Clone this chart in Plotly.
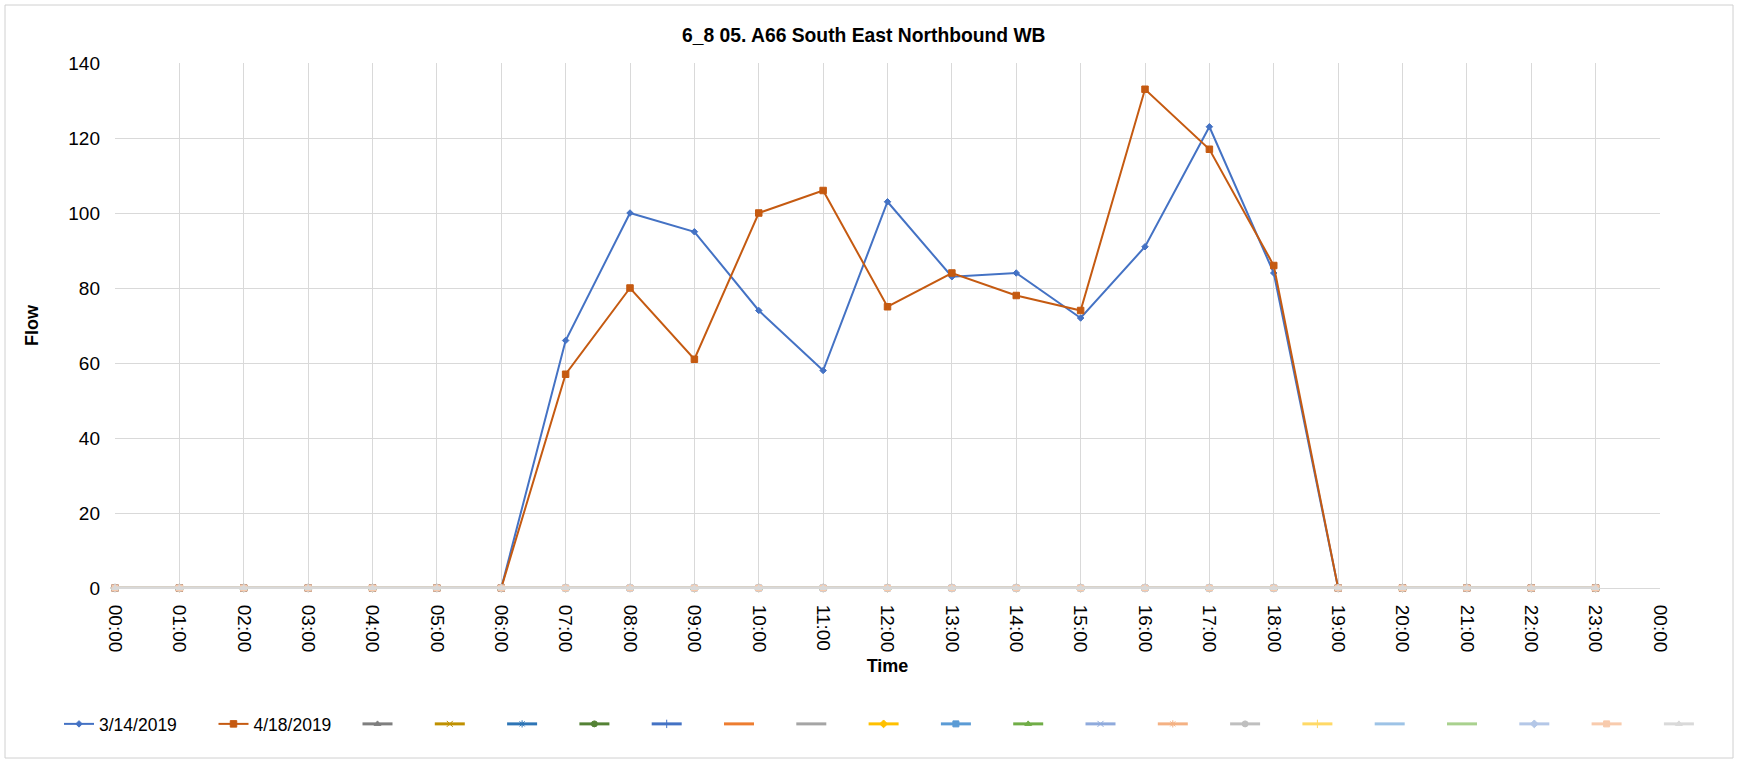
import plotly.graph_objects as go

# ---------------- data ----------------
time_labels = ["00:00", "01:00", "02:00", "03:00", "04:00", "05:00", "06:00", "07:00",
               "08:00", "09:00", "10:00", "11:00", "12:00", "13:00", "14:00", "15:00",
               "16:00", "17:00", "18:00", "19:00", "20:00", "21:00", "22:00", "23:00"]
day = "2019-01-01"
next_day = "2019-01-02"

flow_2019_03_14 = [0, 0, 0, 0, 0, 0, 0, 66, 100, 95, 74, 58,
                   103, 83, 84, 72, 91, 123, 84, 0, 0, 0, 0, 0]
flow_2019_04_18 = [0, 0, 0, 0, 0, 0, 0, 57, 80, 61, 100, 106,
                   75, 84, 78, 74, 133, 117, 86, 0, 0, 0, 0, 0]
empty_series = [0] * 24  # the 19 unnamed series are all zero

series_names = ["3/14/2019", "4/18/2019"]
blank_count = 19

title_text = "6_8 05. A66 South East Northbound WB"
x_title = "Time"
y_title = "Flow"

# ---------------- styles ----------------
main_colors = ["#4472C4", "#C55A11"]
main_symbols = ["diamond", "square"]
main_sizes = [5, 6.5]
blank_colors = ["#7F7F7F", "#BF9000", "#2E75B6", "#548235", "#4472C4", "#ED7D31",
                "#A5A5A5", "#FFC000", "#5B9BD5", "#70AD47", "#8FAADC", "#F4B183",
                "#BFBFBF", "#FFD966", "#9DC3E6", "#A9D18E", "#B4C7E7", "#F8CBAD",
                "#D9D9D9"]
blank_symbols = ["triangle-up", "x-thin-open", "asterisk-open", "circle", "cross-thin-open",
                 "line-ew-open", "line-ew-open", "diamond", "square", "triangle-up",
                 "x-thin-open", "asterisk-open", "circle", "cross-thin-open", "line-ew-open",
                 "line-ew-open", "diamond", "square", "triangle-up"]

FONT = "Liberation Sans, Arial, sans-serif"
W, H = 1738, 760
L, R, T, B = 115, 78, 63, 172
pw, ph = W - L - R, H - T - B

x_vals = [f"{day} {t}" for t in time_labels]

fig = go.Figure()
main_data = [flow_2019_03_14, flow_2019_04_18]
main_lw = [109.5, 99]
for i, (name, vals) in enumerate(zip(series_names, main_data)):
    fig.add_trace(go.Scatter(
        x=x_vals, y=vals, name=name, mode="lines+markers", cliponaxis=False,
        line=dict(color=main_colors[i], width=2),
        marker=dict(symbol=main_symbols[i], size=main_sizes[i], color=main_colors[i],
                    line=dict(color=main_colors[i], width=1)),
        legendwidth=main_lw[i],
    ))

for k in range(blank_count):
    c = blank_colors[k]
    fig.add_trace(go.Scatter(
        x=x_vals, y=empty_series, name="", mode="lines+markers", cliponaxis=False,
        line=dict(color=c, width=3),
        marker=dict(symbol=blank_symbols[k], size=6, color=c, line=dict(color=c, width=1)),
        legendwidth=(27.3 if k < blank_count - 1 else 1),
    ))

# chart border
def px2paper_x(px):
    return (px - L) / pw

def px2paper_y(py):
    return (H - B - py) / ph

fig.add_shape(type="rect", xref="paper", yref="paper",
              x0=px2paper_x(5), x1=px2paper_x(1733), y0=px2paper_y(758), y1=px2paper_y(5),
              line=dict(color="#D0D0D0", width=1), fillcolor="rgba(0,0,0,0)", layer="below")

fig.update_layout(
    width=W, height=H,
    margin=dict(l=L, r=R, t=T, b=B, autoexpand=False),
    paper_bgcolor="white", plot_bgcolor="white",
    font=dict(family=FONT, size=18, color="#000000"),
    title=dict(text=f"<b>{title_text}</b>", x=0.497, xref="container", xanchor="center",
               y=1 - 35.5 / H, yref="container", yanchor="middle",
               font=dict(family=FONT, size=19.3, color="#000000")),
    showlegend=True,
    legend=dict(orientation="h", xref="paper", yref="paper",
                x=px2paper_x(59), xanchor="left", y=px2paper_y(724), yanchor="middle",
                font=dict(family=FONT, size=17.5, color="#000000"),
                bgcolor="rgba(0,0,0,0)", itemclick=False, itemdoubleclick=False,
                tracegroupgap=0),
    xaxis=dict(
        type="date",
        range=[f"{day} 00:00", f"{next_day} 00:00"],
        tick0=f"{day} 00:00", dtick=3600000, tickformat="%H:%M",
        tickangle=90, ticks="", ticklabelstandoff=12,
        tickfont=dict(family=FONT, size=19, color="#000000"),
        showgrid=True, gridcolor="#D9D9D9", gridwidth=1,
        showline=True, linecolor="#D9D9D9", linewidth=1,
        zeroline=False,
        title=dict(text=f"<b>{x_title}</b>", standoff=8,
                   font=dict(family=FONT, size=18, color="#000000")),
        fixedrange=True,
    ),
    yaxis=dict(
        range=[0, 140], dtick=20, tick0=0,
        ticks="", ticklabelstandoff=14,
        tickfont=dict(family=FONT, size=19, color="#000000"),
        showgrid=True, gridcolor="#D9D9D9", gridwidth=1,
        showline=False, zeroline=False,
        title=dict(text=f"<b>{y_title}</b>", standoff=24,
                   font=dict(family=FONT, size=18, color="#000000")),
        fixedrange=True,
    ),
)

fig.write_html("out.html", config={"displayModeBar": False},
               post_script="document.body.style.margin='0';")
